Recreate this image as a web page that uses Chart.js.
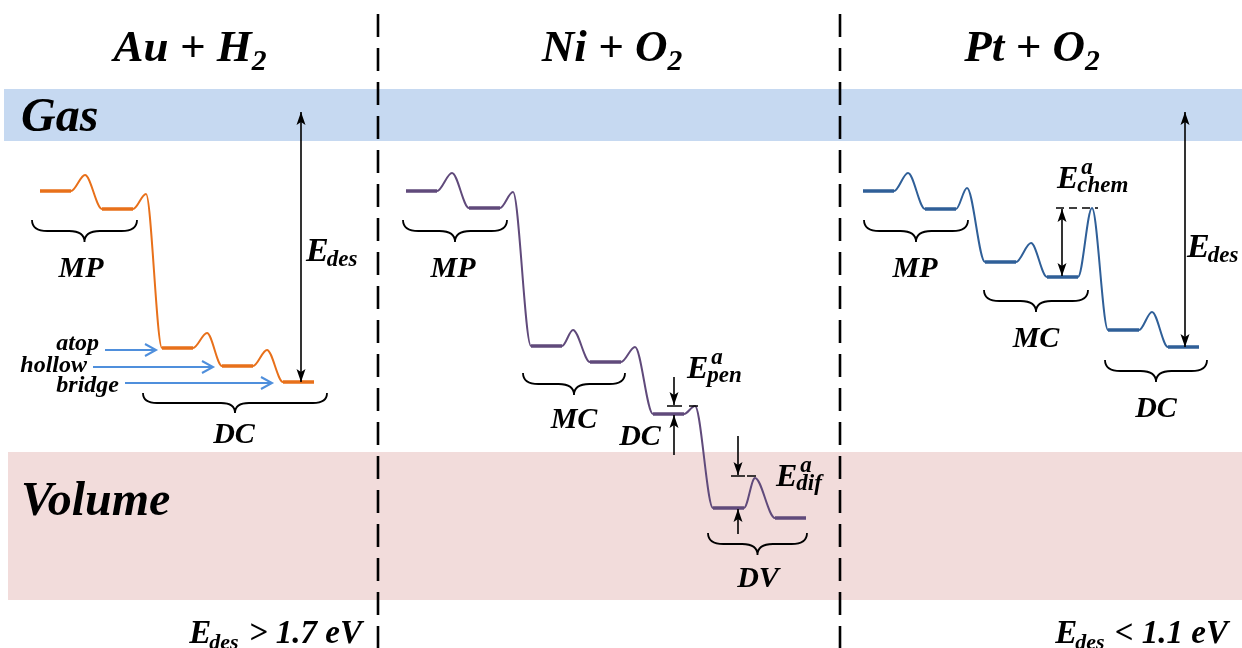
<!DOCTYPE html>
<html>
<head>
<meta charset="utf-8">
<script src="https://cdn.jsdelivr.net/npm/chart.js@4.4.1/dist/chart.umd.min.js"></script>
<style>
  html, body { margin: 0; padding: 0; background: #fff; }
  #cv { display: block; }
</style>
</head>
<body>
<canvas id="cv" width="1242" height="648"></canvas>
<script>
// energy profiles, y = level on the diagram (screen units, down = lower energy)
// Au + H2
const auStateX = [40, 102, 162, 222, 283];
const auLevel  = [191, 209, 348, 366, 382];
const auPeakX  = [85, 146, 207, 267];
const auPeak   = [175, 194, 333, 350];
// Ni + O2
const niStateX = [406, 469, 531, 590, 653, 713, 775];
const niLevel  = [191, 208, 346, 362, 414, 508, 518];
const niPeakX  = [452, 513, 573, 635, 695, 755];
const niPeak   = [173, 192, 330, 347, 406, 478];
// Pt + O2
const ptStateX = [863, 925, 985, 1047, 1108, 1168];
const ptLevel  = [191, 209, 262, 277, 330, 347];
const ptPeakX  = [908, 967, 1031, 1092, 1152];
const ptPeak   = [173, 188, 243, 208, 312];

const panelTitles = [['Au + H', '2'], ['Ni + O', '2'], ['Pt + O', '2']];
const siteLabels = ['atop', 'hollow', 'bridge'];
const bottomNotes = [['E', 'des', ' > 1.7 eV'], ['E', 'des', ' < 1.1 eV']];

const stateWidth = 31;
const FONT = '"Liberation Serif", "DejaVu Serif", serif';
const COLORS = { au: '#e8701a', ni: '#604a7b', pt: '#2f5f98', site: '#4f8fdc' };

function curvePoints(sx, lv, pkx, pk) {
  const pts = [];
  sx.forEach((x, i) => {
    pts.push({ x: x, y: lv[i] }, { x: x + stateWidth, y: lv[i] });
    if (i < pkx.length) pts.push({ x: pkx[i], y: pk[i] });
  });
  return pts;
}
function plateauPoints(sx, lv) {
  const pts = [];
  sx.forEach((x, i) => {
    pts.push({ x: x, y: lv[i] }, { x: x + stateWidth, y: lv[i] }, { x: x + stateWidth + 1, y: null });
  });
  return pts;
}
function profile(sx, lv, pkx, pk, color) {
  return [
    { data: curvePoints(sx, lv, pkx, pk), borderColor: color, borderWidth: 2,
      cubicInterpolationMode: 'monotone', showLine: true, pointRadius: 0 },
    { data: plateauPoints(sx, lv), borderColor: color, borderWidth: 3.5, borderCapStyle: 'butt',
      showLine: true, spanGaps: false, pointRadius: 0 }
  ];
}

// ---- drawing helpers ----
function font(ctx, size) { ctx.font = 'italic bold ' + size + 'px ' + FONT; }
function text(ctx, s, x, y, size, align) {
  font(ctx, size); ctx.textAlign = align || 'left'; ctx.textBaseline = 'alphabetic';
  ctx.fillText(s, x, y);
}
function withSub(ctx, main, sub, x, y, size, align) {
  font(ctx, size); const w1 = ctx.measureText(main).width;
  font(ctx, size * 0.66); const w2 = ctx.measureText(sub).width;
  let left = x;
  if (align === 'center') left = x - (w1 + w2) / 2;
  text(ctx, main, left, y, size);
  text(ctx, sub, left + w1, y + size * 0.2, size * 0.66);
}
// E with optional superscript and a subscript
function energy(ctx, sub, x, y, size, sup) {
  font(ctx, size); const w = ctx.measureText('E').width;
  text(ctx, 'E', x, y, size);
  if (sup) {
    text(ctx, sub, x + w - 1, y + 4, 23);
    text(ctx, sup, x + w + 3, y - 14, 23);
  } else {
    text(ctx, sub, x + w - 2, y + 5, 23);
  }
}
function brace(ctx, x0, x1, top, h) {
  const r = h / 2, xm = (x0 + x1) / 2;
  ctx.beginPath();
  ctx.moveTo(x0, top); ctx.quadraticCurveTo(x0, top + r, x0 + r * 1.4, top + r);
  ctx.lineTo(xm - r * 1.4, top + r); ctx.quadraticCurveTo(xm, top + r, xm, top + h);
  ctx.moveTo(x1, top); ctx.quadraticCurveTo(x1, top + r, x1 - r * 1.4, top + r);
  ctx.lineTo(xm + r * 1.4, top + r); ctx.quadraticCurveTo(xm, top + r, xm, top + h);
  ctx.stroke();
}
function head(ctx, x, y, dir) {
  // dir: +1 pointing down, -1 pointing up
  ctx.beginPath();
  ctx.moveTo(x, y);
  ctx.lineTo(x - 4.5, y - dir * 13);
  ctx.lineTo(x, y - dir * 10);
  ctx.lineTo(x + 4.5, y - dir * 13);
  ctx.closePath(); ctx.fill();
}
function vArrow(ctx, x, y0, y1, headStart, headEnd) {
  ctx.beginPath(); ctx.moveTo(x, y0); ctx.lineTo(x, y1); ctx.stroke();
  const d = y1 > y0 ? 1 : -1;
  if (headEnd) head(ctx, x, y1, d);
  if (headStart) head(ctx, x, y0, -d);
}
function hArrow(ctx, x0, x1, y) {
  ctx.beginPath(); ctx.moveTo(x0, y); ctx.lineTo(x1 - 2, y); ctx.stroke();
  ctx.beginPath(); ctx.moveTo(x1 - 11, y - 6); ctx.lineTo(x1, y); ctx.lineTo(x1 - 11, y + 6); ctx.stroke();
}

const backdrop = {
  id: 'backdrop',
  beforeDatasetsDraw(chart) {
    const ctx = chart.ctx, sx = chart.scales.x, sy = chart.scales.y;
    const X = v => sx.getPixelForValue(v), Y = v => sy.getPixelForValue(v);
    ctx.save();
    ctx.fillStyle = '#c6d9f1';
    ctx.fillRect(X(4), Y(89), X(1242) - X(4), Y(141) - Y(89));
    ctx.fillStyle = '#f2dcdb';
    ctx.fillRect(X(8), Y(452), X(1242) - X(8), Y(600) - Y(452));
    ctx.strokeStyle = '#000'; ctx.lineWidth = 2.6; ctx.setLineDash([23, 11]);
    [378, 840].forEach(v => {
      ctx.beginPath(); ctx.moveTo(X(v), Y(14)); ctx.lineTo(X(v), Y(648)); ctx.stroke();
    });
    ctx.restore();
  },
  afterDatasetsDraw(chart) {
    const ctx = chart.ctx, sx = chart.scales.x, sy = chart.scales.y;
    const X = v => sx.getPixelForValue(v), Y = v => sy.getPixelForValue(v);
    ctx.save();
    ctx.fillStyle = '#000'; ctx.strokeStyle = '#000';

    // titles and regions
    [190, 612, 1032].forEach((c, i) => withSub(ctx, panelTitles[i][0], panelTitles[i][1], X(c), Y(61), 45, 'center'));
    text(ctx, 'Gas', X(21), Y(131), 48);
    text(ctx, 'Volume', X(21), Y(515), 48);

    // braces
    ctx.lineWidth = 1.8; ctx.setLineDash([]);
    [[32, 137, 220, 22], [143, 327, 393, 20], [403, 507, 220, 22], [523, 625, 373, 22],
     [708, 807, 533, 22], [864, 968, 220, 22], [984, 1088, 290, 22], [1105, 1207, 360, 22]]
      .forEach(b => brace(ctx, X(b[0]), X(b[1]), Y(b[2]), b[3]));
    [['MP', 81, 277], ['DC', 234, 443], ['MP', 453, 277], ['MC', 574, 428], ['DC', 640, 445],
     ['DV', 758, 587], ['MP', 915, 277], ['MC', 1036, 347], ['DC', 1156, 417]]
      .forEach(l => text(ctx, l[0], X(l[1]), Y(l[2]), 30, 'center'));

    // desorption arrows
    ctx.lineWidth = 1.6;
    vArrow(ctx, X(301), Y(112), Y(382), true, true);
    vArrow(ctx, X(1185), Y(112), Y(347), true, true);
    energy(ctx, 'des', X(306), Y(261), 34);
    energy(ctx, 'des', X(1187), Y(257), 34);

    // Ni penetration barrier
    vArrow(ctx, X(674), Y(377), Y(405), false, true);
    vArrow(ctx, X(674), Y(455), Y(415), false, true);
    ctx.beginPath(); ctx.moveTo(X(667), Y(406)); ctx.lineTo(X(682), Y(406));
    ctx.moveTo(X(689), Y(406)); ctx.lineTo(X(698), Y(406)); ctx.stroke();
    energy(ctx, 'pen', X(687), Y(378), 32, 'a');
    // Ni diffusion barrier
    vArrow(ctx, X(738), Y(436), Y(475), false, true);
    vArrow(ctx, X(738), Y(534), Y(509), false, true);
    ctx.beginPath(); ctx.moveTo(X(731), Y(476)); ctx.lineTo(X(745), Y(476));
    ctx.moveTo(X(747), Y(476)); ctx.lineTo(X(756), Y(476)); ctx.stroke();
    energy(ctx, 'dif', X(776), Y(486), 32, 'a');

    // Pt chemisorption barrier
    vArrow(ctx, X(1062), Y(209), Y(276), true, true);
    ctx.setLineDash([8, 5]);
    ctx.beginPath(); ctx.moveTo(X(1056), Y(208)); ctx.lineTo(X(1098), Y(208)); ctx.stroke();
    ctx.setLineDash([]);
    energy(ctx, 'chem', X(1057), Y(188), 32, 'a');

    // adsorption sites (Au)
    ctx.strokeStyle = COLORS.site; ctx.lineWidth = 2;
    hArrow(ctx, X(105), X(156), Y(350));
    hArrow(ctx, X(93), X(213), Y(367));
    hArrow(ctx, X(125), X(272), Y(383));
    text(ctx, siteLabels[0], X(99), Y(350), 24, 'right');
    text(ctx, siteLabels[1], X(87), Y(372), 24, 'right');
    text(ctx, siteLabels[2], X(119), Y(392), 24, 'right');

    // bottom notes
    [[362, 643], [1228, 643]].forEach((p, i) => {
      const n = bottomNotes[i];
      font(ctx, 33); const w1 = ctx.measureText(n[0]).width, w3 = ctx.measureText(n[2]).width;
      font(ctx, 22); const w2 = ctx.measureText(n[1]).width;
      const left = X(p[0]) - (w1 + w2 + w3);
      text(ctx, n[0], left, Y(p[1]), 33);
      text(ctx, n[1], left + w1 - 2, Y(p[1]) + 6, 22);
      text(ctx, n[2], left + w1 + w2, Y(p[1]), 33);
    });
    ctx.restore();
  }
};

new Chart(document.getElementById('cv'), {
  type: 'scatter',
  data: {
    datasets: [
      ...profile(auStateX, auLevel, auPeakX, auPeak, COLORS.au),
      ...profile(niStateX, niLevel, niPeakX, niPeak, COLORS.ni),
      ...profile(ptStateX, ptLevel, ptPeakX, ptPeak, COLORS.pt)
    ]
  },
  options: {
    responsive: false,
    animation: false,
    layout: { padding: 0 },
    plugins: { legend: { display: false }, tooltip: { enabled: false } },
    scales: {
      x: { type: 'linear', min: 0, max: 1242, display: false },
      y: { type: 'linear', min: 0, max: 648, reverse: true, display: false }
    }
  },
  plugins: [backdrop]
});
</script>
</body>
</html>
